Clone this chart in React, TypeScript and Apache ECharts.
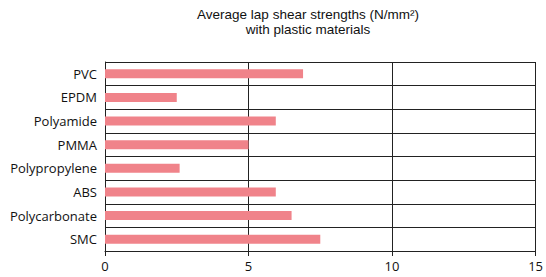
import React, { useEffect, useRef } from "react";
import * as echarts from "echarts";

const categories = ["PVC", "EPDM", "Polyamide", "PMMA", "Polypropylene", "ABS", "Polycarbonate", "SMC"];
const values = [6.9, 2.5, 5.95, 5.0, 2.6, 5.95, 6.5, 7.5];
const titleLines = ["Average lap shear strengths (N/mm²)", "with plastic materials"];

export default function App() {
  const ref = useRef<HTMLDivElement>(null);
  useEffect(() => {
    const chart = echarts.init(ref.current!, null, { renderer: "svg" });
    chart.setOption({
      animation: false,
      title: {
        text: titleLines.join("\n"),
        left: 303,
        top: 2,
        textAlign: "center",
        textStyle: {
          fontFamily: "Liberation Sans, Arial, sans-serif",
          fontSize: 13.5,
          fontWeight: "normal",
          color: "#111",
          lineHeight: 15,
        },
      },
      grid: { left: 105, right: 10, top: 62, bottom: 26 },
      xAxis: {
        type: "value",
        min: 0,
        max: 15,
        interval: 5,
        axisLine: { show: true, lineStyle: { color: "#222", width: 1 } },
        axisTick: { show: true, length: 5, lineStyle: { color: "#222" } },
        axisLabel: { fontFamily: "Open Sans, sans-serif", fontSize: 13, color: "#111", margin: 8 },
        splitLine: { show: true, lineStyle: { color: "#222", width: 1 } },
      },
      yAxis: {
        type: "category",
        inverse: true,
        data: categories,
        axisLine: { show: true, lineStyle: { color: "#222", width: 1 } },
        axisTick: { show: false },
        axisLabel: { fontFamily: "Open Sans, sans-serif", fontSize: 13, color: "#111", margin: 8 },
        splitLine: { show: true, lineStyle: { color: "#222", width: 1 } },
      },
      series: [
        {
          type: "bar",
          data: values,
          barWidth: 9,
          itemStyle: { color: "#f0838a" },
        },
      ],
    });
    return () => chart.dispose();
  }, []);
  return <div ref={ref} style={{ width: 546, height: 277, position: "absolute", left: 0, top: 0 }} />;
}
